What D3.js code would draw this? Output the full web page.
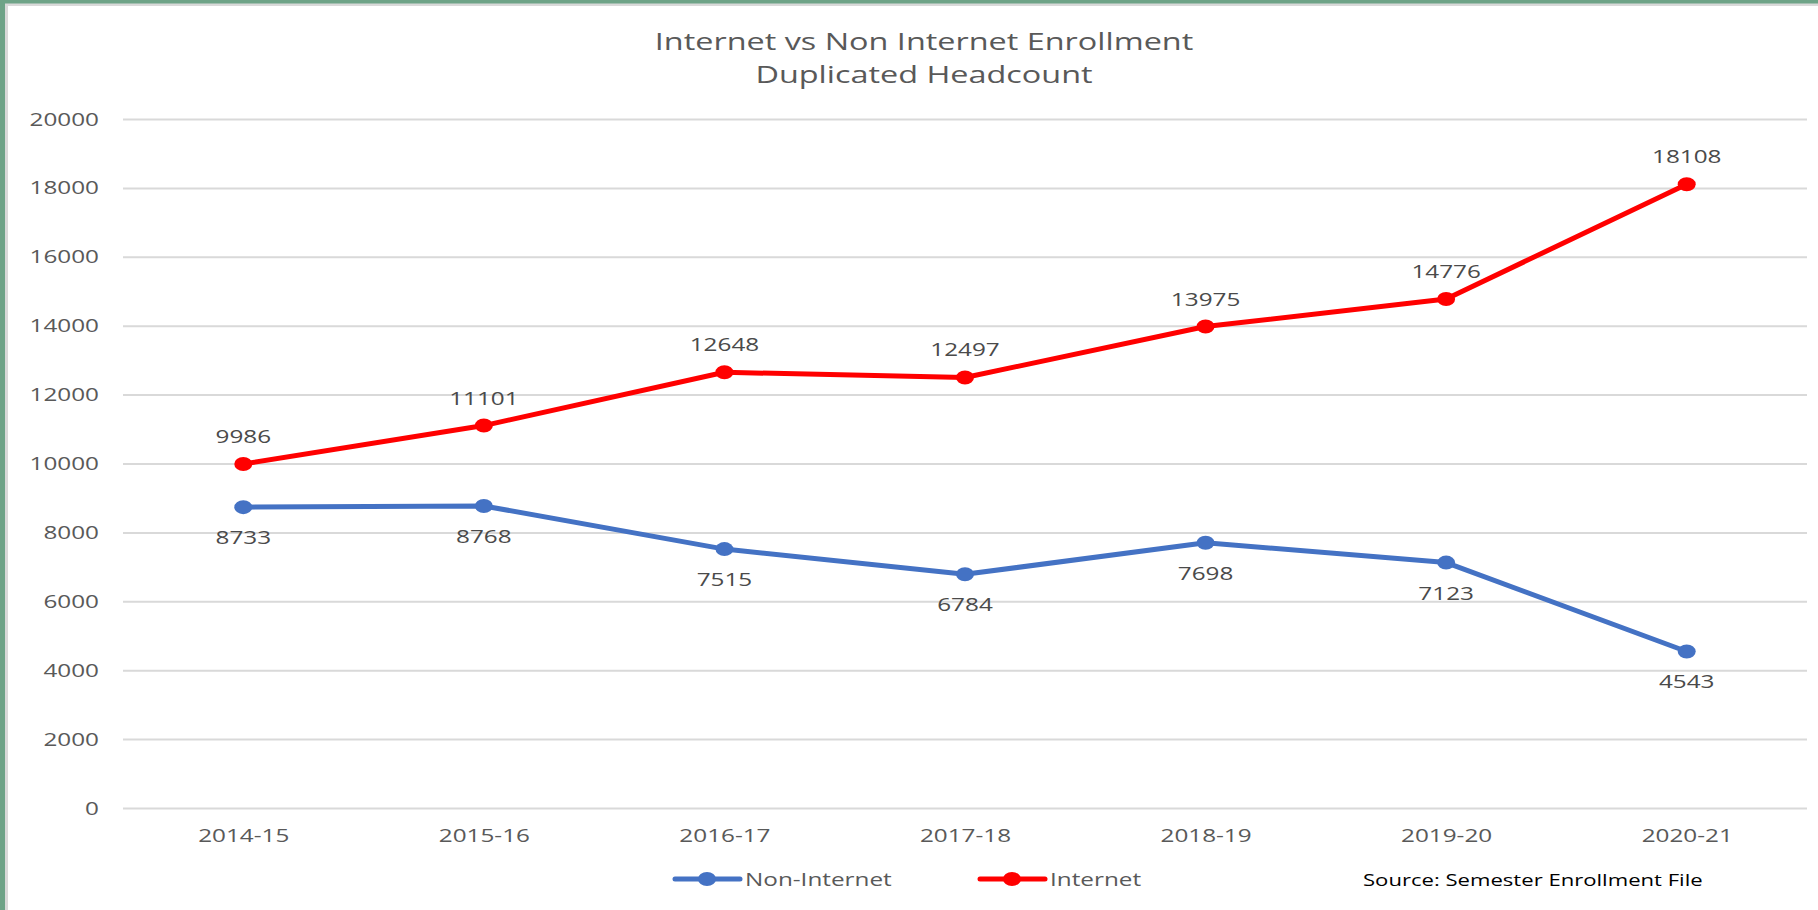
<!DOCTYPE html>
<html>
<head>
<meta charset="utf-8">
<script src="https://cdn.jsdelivr.net/npm/d3@7"></script>
<style>
  body { margin: 0; background: #fff; }
  text { font-family: "Open Sans", sans-serif; }
</style>
</head>
<body>
<script>
const w = 1818;
const h = 910;
const S = 1.35; // the source picture is stretched sideways

const years = ["2014-15", "2015-16", "2016-17", "2017-18", "2018-19", "2019-20", "2020-21"];
const nonInternet = [8733, 8768, 7515, 6784, 7698, 7123, 4543];
const internet = [9986, 11101, 12648, 12497, 13975, 14776, 18108];
const yTicks = [0, 2000, 4000, 6000, 8000, 10000, 12000, 14000, 16000, 18000, 20000];
const titleLines = ["Internet vs Non Internet Enrollment", "Duplicated Headcount"];
const seriesNames = ["Non-Internet", "Internet"];
const source = "Source: Semester Enrollment File";

const plotLeft = 123, plotRight = 1807, plotTop = 119, plotBottom = 808;

const svg = d3.select("body")
    .append("svg")
    .attr("width", w)
    .attr("height", h);

// frame
svg.append("rect").attr("x", 0).attr("y", 0).attr("width", w).attr("height", 6).attr("fill", "#d9d9d9");
svg.append("rect").attr("x", 0).attr("y", 0).attr("width", 8).attr("height", h).attr("fill", "#d9d9d9");
svg.append("rect").attr("x", 0).attr("y", 0).attr("width", w).attr("height", 3.5).attr("fill", "#6ea387");
svg.append("rect").attr("x", 0).attr("y", 0).attr("width", 5).attr("height", h).attr("fill", "#6ea387");

function stretch(x, y) {
    return "translate(" + x + "," + y + ") scale(" + S + ",1)";
}

const xScale = d3.scalePoint()
    .domain(years)
    .range([plotLeft, plotRight])
    .padding(0.5);

const yScale = d3.scaleLinear()
    .domain([0, 20000])
    .range([plotBottom, plotTop]);

// y axis with gridlines
const yAxis = d3.axisLeft()
    .scale(yScale)
    .tickValues(yTicks)
    .tickSize(-(plotRight - plotLeft))
    .tickFormat(d3.format("d"));

const yg = svg.append("g")
    .attr("class", "yaxis")
    .attr("transform", "translate(" + plotLeft + ",0)")
    .call(yAxis);
yg.select(".domain").remove();
yg.selectAll("line").attr("stroke", "#d9d9d9").attr("stroke-width", 2);
yg.selectAll("text")
    .attr("x", null).attr("dy", null)
    .attr("transform", stretch(-24, 6))
    .attr("fill", "#595959")
    .attr("font-size", 18)
    .attr("text-anchor", "end");

// x axis labels
const xAxis = d3.axisBottom()
    .scale(xScale)
    .tickSize(0);

const xg = svg.append("g")
    .attr("class", "xaxis")
    .attr("transform", "translate(0," + plotBottom + ")")
    .call(xAxis);
xg.select(".domain").remove();
xg.selectAll("text")
    .attr("y", null).attr("dy", null)
    .attr("transform", stretch(0, 34))
    .attr("fill", "#595959")
    .attr("font-size", 18);

// title
svg.selectAll(".title")
    .data(titleLines)
    .enter()
    .append("text")
    .attr("class", "title")
    .attr("transform", function(d, i) { return stretch(924, 50 + i * 33); })
    .attr("text-anchor", "middle")
    .attr("fill", "#595959")
    .attr("font-size", 24)
    .text(function(d) { return d; });

const series = [
    {name: seriesNames[0], values: nonInternet, color: "#4472c4", labelDy: 37},
    {name: seriesNames[1], values: internet, color: "#ff0000", labelDy: -21}
];

const line = d3.line()
    .x(function(d, i) { return xScale(years[i]); })
    .y(function(d) { return yScale(d); });

series.forEach(function(s) {
    const g = svg.append("g");

    g.append("path")
        .attr("d", line(s.values))
        .attr("fill", "none")
        .attr("stroke", s.color)
        .attr("stroke-width", 5)
        .attr("stroke-linejoin", "round");

    g.selectAll("ellipse")
        .data(s.values)
        .enter()
        .append("ellipse")
        .attr("cx", function(d, i) { return xScale(years[i]); })
        .attr("cy", function(d) { return yScale(d); })
        .attr("rx", 9)
        .attr("ry", 7)
        .attr("fill", s.color);

    g.selectAll("text")
        .data(s.values)
        .enter()
        .append("text")
        .attr("transform", function(d, i) { return stretch(xScale(years[i]), yScale(d) + s.labelDy); })
        .attr("text-anchor", "middle")
        .attr("fill", "#4a4a4a")
        .attr("font-size", 18)
        .text(function(d) { return d; });
});

// legend
const legendX = [675, 980];
series.forEach(function(s, i) {
    const lx = legendX[i];
    svg.append("line")
        .attr("x1", lx).attr("x2", lx + 65)
        .attr("y1", 879).attr("y2", 879)
        .attr("stroke", s.color)
        .attr("stroke-width", 5)
        .attr("stroke-linecap", "round");
    svg.append("ellipse")
        .attr("cx", lx + 32).attr("cy", 879)
        .attr("rx", 9).attr("ry", 7)
        .attr("fill", s.color);
    svg.append("text")
        .attr("transform", stretch(lx + 70, 886))
        .attr("fill", "#595959")
        .attr("font-size", 18)
        .text(s.name);
});

svg.append("text")
    .attr("transform", "translate(1363,886) scale(1.3,1)")
    .attr("fill", "#000")
    .attr("font-size", 17)
    .text(source);
</script>
</body>
</html>
